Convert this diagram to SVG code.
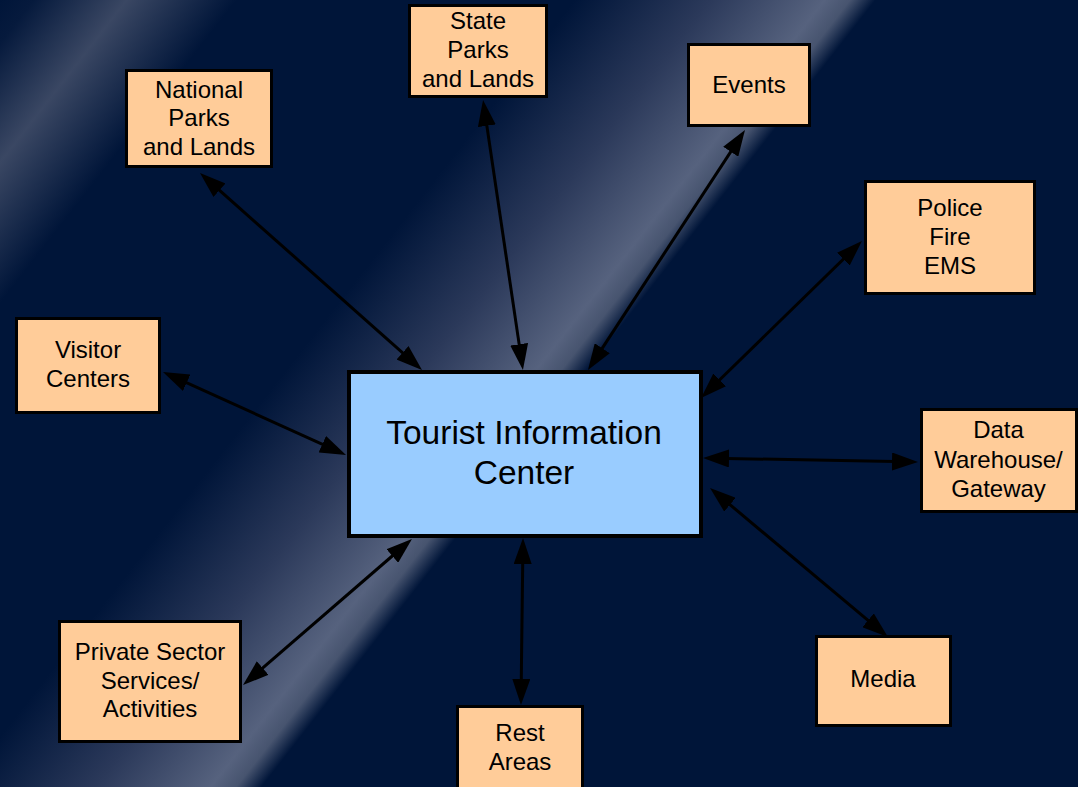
<svg xmlns="http://www.w3.org/2000/svg" width="1078" height="787" viewBox="0 0 1078 787">
<defs>
<linearGradient id="bg" gradientUnits="userSpaceOnUse" x1="0" y1="0" x2="1050.6" y2="819.8">
<stop offset="0" stop-color="#001539"/>
<stop offset="0.02" stop-color="#061a3d"/>
<stop offset="0.075" stop-color="#3a4763"/>
<stop offset="0.14" stop-color="#001539"/>
<stop offset="0.34" stop-color="#001539"/>
<stop offset="0.42" stop-color="#2b395a"/>
<stop offset="0.488" stop-color="#56627e"/>
<stop offset="0.503" stop-color="#47546f"/>
<stop offset="0.518" stop-color="#001539"/>
<stop offset="1" stop-color="#001539"/>
</linearGradient>
<marker id="ah" markerUnits="userSpaceOnUse" markerWidth="26" markerHeight="18" refX="16" refY="9" orient="auto-start-reverse" viewBox="0 0 26 18">
<path d="M0,0 L26,9 L0,18 z" fill="#000"/>
</marker>
<style>
.n rect{fill:#ffcc99;stroke:#000;stroke-width:3}
.c rect{fill:#99ccff;stroke:#000;stroke-width:4}
text{font-family:"Liberation Sans",Arial,Helvetica,sans-serif;fill:#000;text-anchor:middle}
.n text{font-size:24px}
.c text{font-size:33.5px}
#connectors line{stroke:#000;stroke-width:3;marker-start:url(#ah);marker-end:url(#ah)}
</style>
</defs>
<rect x="0" y="0" width="1078" height="787" fill="url(#bg)"/>
<g id="connectors">
<line x1="207.5" y1="179.6" x2="414.5" y2="363.4"/>
<line x1="484.5" y1="109.9" x2="521.5" y2="360.1"/>
<line x1="739.5" y1="138.4" x2="593.5" y2="361.6"/>
<line x1="854.8" y1="248" x2="708.2" y2="391"/>
<line x1="713" y1="458.2" x2="908" y2="461.8"/>
<line x1="717.7" y1="494.4" x2="880.3" y2="630.6"/>
<line x1="522.9" y1="548" x2="521.1" y2="695"/>
<line x1="404.4" y1="545.5" x2="250.6" y2="678.5"/>
<line x1="172.1" y1="376.1" x2="336.9" y2="450.9"/>
</g>
<g id="center" class="c">
<rect x="349" y="372" width="352" height="164"/>
<text x="524" y="444">Tourist Information</text>
<text x="524" y="484">Center</text>
</g>
<g id="national" class="n">
<rect x="126.5" y="70.5" width="145" height="96"/>
<text x="199" y="97.5">National</text>
<text x="199" y="126">Parks</text>
<text x="199" y="154.5">and Lands</text>
</g>
<g id="state" class="n">
<rect x="409.5" y="5.5" width="137" height="91"/>
<text x="478" y="29">State</text>
<text x="478" y="58">Parks</text>
<text x="478" y="87">and Lands</text>
</g>
<g id="events" class="n">
<rect x="688.5" y="44.5" width="121" height="81"/>
<text x="749" y="93">Events</text>
</g>
<g id="police" class="n">
<rect x="865.5" y="181.5" width="169" height="112"/>
<text x="950" y="216">Police</text>
<text x="950" y="245">Fire</text>
<text x="950" y="273.5">EMS</text>
</g>
<g id="visitor" class="n">
<rect x="16.5" y="318.5" width="143" height="94"/>
<text x="88" y="358">Visitor</text>
<text x="88" y="387">Centers</text>
</g>
<g id="data" class="n">
<rect x="921.5" y="409.5" width="155" height="102"/>
<text x="998.5" y="438">Data</text>
<text x="998.5" y="468">Warehouse/</text>
<text x="998.5" y="497">Gateway</text>
</g>
<g id="media" class="n">
<rect x="816.5" y="636.5" width="134" height="89"/>
<text x="883" y="687">Media</text>
</g>
<g id="private" class="n">
<rect x="59.5" y="621.5" width="181" height="120"/>
<text x="150" y="660">Private Sector</text>
<text x="150" y="689">Services/</text>
<text x="150" y="717">Activities</text>
</g>
<g id="rest" class="n">
<rect x="457.5" y="706.5" width="125" height="90"/>
<text x="520" y="741">Rest</text>
<text x="520" y="770">Areas</text>
</g>
</svg>
